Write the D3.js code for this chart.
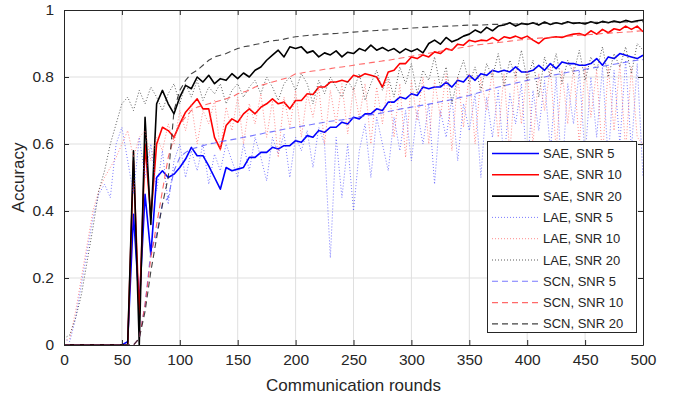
<!DOCTYPE html>
<html>
<head>
<meta charset="utf-8">
<script src="https://cdn.jsdelivr.net/npm/d3@7"></script>
<style>
  body { margin: 0; background: #fff; }
  text { font-family: "Liberation Sans", Arial, sans-serif; fill: #262626; }
</style>
</head>
<body>
<div id="chart"></div>
<script>
// rounds 0..500, step 5
var rounds = d3.range(0, 501, 5);
var xTicks = [0, 50, 100, 150, 200, 250, 300, 350, 400, 450, 500];
var yTicks = [0, 0.2, 0.4, 0.6, 0.8, 1];
var yTickLabels = ["0", "0.2", "0.4", "0.6", "0.8", "1"];

var saeSnr5 = [
  0,0,0,0,0,0,0,0,0,0,
  0,.01,.39,.12,.45,.27,.50,.52,.50,.51,
  .53,.555,.59,.565,.565,.535,.50,.465,.53,.52,
  .525,.53,.56,.56,.575,.575,.59,.585,.595,.595,
  .61,.605,.625,.62,.64,.635,.65,.65,.665,.66,
  .68,.675,.69,.69,.705,.70,.725,.725,.74,.735,
  .75,.745,.77,.765,.77,.77,.785,.77,.79,.785,
  .805,.79,.81,.805,.82,.815,.82,.815,.83,.815,
  .815,.82,.835,.82,.84,.825,.845,.84,.84,.835,
  .835,.84,.855,.835,.86,.855,.87,.865,.86,.855,
  .865];
var saeSnr10 = [
  0,0,0,0,0,0,0,0,0,0,
  0,0,.55,.08,.60,.38,.60,.65,.64,.62,
  .66,.695,.715,.735,.705,.705,.62,.585,.655,.675,
  .665,.69,.705,.69,.71,.72,.735,.72,.725,.705,
  .73,.73,.75,.748,.77,.77,.785,.785,.79,.785,
  .805,.80,.81,.805,.80,.77,.815,.82,.84,.84,
  .86,.855,.866,.86,.875,.87,.885,.88,.898,.895,
  .91,.905,.91,.908,.918,.908,.92,.916,.922,.915,
  .922,.91,.90,.915,.918,.92,.918,.924,.928,.93,
  .924,.938,.928,.942,.932,.944,.94,.952,.942,.952,
  .935];
var saeSnr20 = [
  0,0,0,0,0,0,0,0,0,0,
  0,0,.58,0,.68,.36,.72,.76,.72,.69,
  .74,.775,.765,.80,.785,.805,.78,.795,.79,.81,
  .795,.812,.80,.82,.83,.85,.865,.88,.86,.89,
  .885,.89,.872,.878,.86,.872,.866,.878,.86,.874,
  .87,.885,.878,.895,.88,.888,.878,.885,.872,.884,
  .876,.884,.872,.90,.91,.898,.918,.905,.912,.922,
  .928,.94,.932,.948,.938,.952,.955,.962,.952,.96,
  .957,.962,.955,.964,.957,.962,.958,.965,.96,.962,
  .958,.965,.96,.966,.962,.967,.963,.969,.964,.968,
  .97];
var laeSnr5 = [
  .02,.01,.08,.18,.28,.38,.45,.48,.44,.60,
  .65,.55,.45,.62,.50,.60,.46,.58,.42,.55,
  .60,.50,.58,.52,.60,.48,.57,.52,.60,.55,
  .50,.60,.52,.62,.56,.49,.62,.57,.63,.50,
  .62,.58,.64,.53,.65,.60,.26,.62,.44,.60,
  .40,.58,.66,.50,.68,.60,.52,.68,.58,.70,
  .55,.70,.60,.72,.48,.70,.62,.74,.55,.72,
  .64,.75,.50,.74,.62,.76,.55,.75,.66,.78,
  .52,.76,.64,.79,.58,.80,.50,.78,.66,.82,
  .56,.80,.62,.83,.55,.82,.60,.85,.58,.84,
  .50];
var laeSnr10 = [
  .01,.02,.10,.20,.30,.40,.46,.50,.53,.56,
  .60,.64,.56,.62,.64,.55,.62,.58,.66,.60,
  .70,.64,.72,.60,.70,.66,.73,.58,.71,.64,
  .74,.60,.72,.66,.75,.62,.73,.56,.74,.65,
  .76,.62,.75,.68,.77,.60,.76,.66,.78,.63,
  .77,.68,.78,.60,.77,.66,.79,.62,.78,.56,
  .79,.67,.80,.60,.79,.68,.81,.58,.80,.65,
  .81,.60,.80,.70,.82,.62,.81,.57,.82,.66,
  .82,.60,.81,.70,.83,.58,.82,.66,.83,.60,
  .83,.68,.82,.56,.83,.64,.84,.58,.83,.62,
  .60];
var laeSnr20 = [
  .02,.03,.08,.15,.25,.35,.46,.52,.60,.66,
  .72,.74,.70,.76,.72,.77,.74,.70,.75,.78,
  .72,.78,.74,.79,.73,.77,.75,.78,.72,.76,
  .78,.74,.77,.79,.75,.80,.77,.73,.78,.80,
  .76,.81,.78,.72,.79,.75,.80,.77,.74,.79,
  .76,.81,.73,.78,.82,.76,.80,.74,.83,.78,
  .84,.75,.82,.79,.86,.77,.83,.72,.80,.85,
  .78,.83,.76,.84,.80,.87,.77,.85,.80,.88,
  .79,.85,.74,.86,.80,.87,.78,.85,.81,.88,
  .79,.86,.82,.89,.80,.87,.83,.89,.81,.90,
  .88];
var scnSnr5 = [
  0,0,0,0,0,0,0,0,0,0,
  0,0,0,.02,.12,.28,.33,.42,.44,.52,
  .56,.575,.585,.59,.595,.60,.603,.607,.61,.613,
  .616,.62,.623,.627,.63,.634,.637,.64,.644,.647,
  .65,.653,.656,.659,.662,.665,.668,.67,.672,.675,
  .678,.681,.684,.687,.69,.693,.697,.70,.704,.707,
  .71,.713,.716,.719,.722,.726,.729,.733,.737,.741,
  .745,.75,.755,.76,.765,.77,.774,.778,.782,.786,
  .79,.793,.797,.80,.804,.807,.81,.814,.817,.82,
  .823,.826,.829,.832,.835,.838,.841,.844,.847,.85,
  .852];
var scnSnr10 = [
  0,0,0,0,0,0,0,0,0,0,
  0,0,0,.02,.12,.26,.36,.46,.56,.62,
  .66,.68,.70,.71,.715,.72,.725,.73,.735,.74,
  .75,.755,.76,.77,.775,.78,.785,.79,.795,.80,
  .81,.812,.815,.818,.82,.823,.825,.828,.83,.832,
  .835,.838,.84,.843,.845,.848,.85,.853,.856,.859,
  .862,.865,.868,.871,.874,.877,.88,.883,.886,.889,
  .892,.895,.897,.899,.901,.903,.905,.907,.909,.911,
  .913,.914,.916,.917,.918,.92,.921,.922,.923,.925,
  .926,.927,.928,.93,.931,.932,.933,.934,.935,.937,
  .938];
var scnSnr20 = [
  0,0,0,0,0,0,0,0,0,0,
  0,0,0,.02,.10,.22,.32,.42,.50,.70,
  .76,.79,.81,.82,.835,.85,.86,.865,.87,.878,
  .885,.89,.893,.897,.90,.905,.908,.91,.913,.917,
  .92,.922,.924,.925,.927,.928,.929,.93,.931,.933,
  .934,.935,.937,.938,.939,.94,.941,.943,.944,.945,
  .946,.947,.948,.949,.95,.951,.952,.952,.953,.954,
  .955,.955,.955,.956,.957,.957,.958,.958,.958,.959,
  .959,.96,.96,.96,.961,.961,.961,.962,.962,.962,
  .962,.963,.963,.963,.963,.964,.964,.964,.964,.965,
  .965];

var seriesNames = ["SAE, SNR 5", "SAE, SNR 10", "SAE, SNR 20",
                   "LAE, SNR 5", "LAE, SNR 10", "LAE, SNR 20",
                   "SCN, SNR 5", "SCN, SNR 10", "SCN, SNR 20"];
var seriesValues = [saeSnr5, saeSnr10, saeSnr20, laeSnr5, laeSnr10, laeSnr20, scnSnr5, scnSnr10, scnSnr20];

// style per series
var styles = [
  {color: "#0000ff", width: 1.6, dash: null, op: 1},
  {color: "#ff0000", width: 1.6, dash: null, op: 1},
  {color: "#000000", width: 1.6, dash: null, op: 1},
  {color: "#4d4dff", width: 1, dash: "1,2", op: 0.75},
  {color: "#ff6666", width: 1, dash: "1,2", op: 0.75},
  {color: "#333333", width: 1, dash: "1,2", op: 0.8},
  {color: "#5555ff", width: 1.1, dash: "6,4", op: 0.8},
  {color: "#ff4444", width: 1.1, dash: "6,4", op: 0.8},
  {color: "#222222", width: 1.1, dash: "6,4", op: 0.85}
];

var W = 683, H = 401;
// plot box (note: "top" is reserved on window)
var pLeft = 64, pRight = 643, pTop = 10, pBottom = 345;

var svg = d3.select("#chart").append("svg")
  .attr("width", W)
  .attr("height", H);

var x = d3.scaleLinear().domain([0, 500]).range([pLeft, pRight]);
var y = d3.scaleLinear().domain([0, 1]).range([pBottom, pTop]);

// grid
svg.append("g").selectAll("line").data(xTicks.slice(1, -1)).enter().append("line")
  .attr("x1", function(d) { return x(d); })
  .attr("x2", function(d) { return x(d); })
  .attr("y1", pTop).attr("y2", pBottom)
  .attr("stroke", "#dfdfdf").attr("stroke-width", 1);
svg.append("g").selectAll("line").data(yTicks.slice(1, -1)).enter().append("line")
  .attr("y1", function(d) { return y(d); })
  .attr("y2", function(d) { return y(d); })
  .attr("x1", pLeft).attr("x2", pRight)
  .attr("stroke", "#dfdfdf").attr("stroke-width", 1);

// series
var line = d3.line()
  .x(function(d, i) { return x(rounds[i]); })
  .y(function(d) { return y(d); });

var plot = svg.append("g");
seriesValues.forEach(function(vals, k) {
  var s = styles[k];
  plot.append("path")
    .datum(vals)
    .attr("d", line)
    .attr("fill", "none")
    .attr("stroke", s.color)
    .attr("stroke-width", s.width)
    .attr("stroke-opacity", s.op)
    .attr("stroke-dasharray", s.dash)
    .attr("stroke-linejoin", "round");
});

// axes
var axisColor = "#262626";
var xAxis = svg.append("g")
  .attr("transform", "translate(0," + pBottom + ")")
  .call(d3.axisBottom(x).tickValues(xTicks).tickSizeInner(-5).tickSizeOuter(0).tickPadding(9));
var yAxis = svg.append("g")
  .attr("transform", "translate(" + pLeft + ",0)")
  .call(d3.axisLeft(y).tickValues(yTicks).tickSizeInner(-5).tickSizeOuter(0).tickPadding(10)
    .tickFormat(function(d, i) { return yTickLabels[i]; }));
var xTop = svg.append("g")
  .attr("transform", "translate(0," + pTop + ")")
  .call(d3.axisTop(x).tickValues(xTicks).tickSizeInner(-5).tickSizeOuter(0).tickFormat(""));
var yRight = svg.append("g")
  .attr("transform", "translate(" + pRight + ",0)")
  .call(d3.axisRight(y).tickValues(yTicks).tickSizeInner(-5).tickSizeOuter(0).tickFormat(""));

[xAxis, yAxis, xTop, yRight].forEach(function(g) {
  g.select(".domain").attr("stroke", axisColor);
  g.selectAll(".tick line").attr("stroke", axisColor);
  g.selectAll("text").style("font-size", "15.5px").attr("fill", axisColor);
});

svg.append("text")
  .attr("x", (pLeft + pRight) / 2)
  .attr("y", 391)
  .attr("text-anchor", "middle")
  .style("font-size", "17px")
  .text("Communication rounds");

svg.append("text")
  .attr("transform", "translate(24," + ((pTop + pBottom) / 2) + ") rotate(-90)")
  .attr("text-anchor", "middle")
  .style("font-size", "17px")
  .text("Accuracy");

// legend
var lg = svg.append("g");
lg.append("rect")
  .attr("x", 487.5).attr("y", 141.5)
  .attr("width", 149).attr("height", 191)
  .attr("fill", "#fff")
  .attr("stroke", axisColor).attr("stroke-width", 1);

seriesNames.forEach(function(name, k) {
  var s = styles[k];
  var yy = 153.5 + k * 21.3;
  lg.append("line")
    .attr("x1", 492).attr("x2", 539)
    .attr("y1", yy).attr("y2", yy)
    .attr("stroke", s.color)
    .attr("stroke-width", s.width)
    .attr("stroke-opacity", s.op)
    .attr("stroke-dasharray", s.dash);
  lg.append("text")
    .attr("x", 543).attr("y", yy + 4.5)
    .style("font-size", "13px")
    .text(name);
});
</script>
</body>
</html>
